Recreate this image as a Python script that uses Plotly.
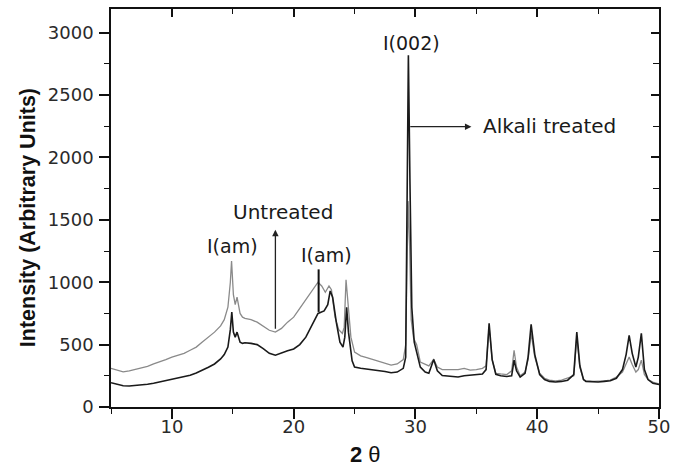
import plotly.graph_objects as go

# ---- data ----
alk_x = [5, 5.5, 6, 6.5, 7, 7.5, 8, 8.5, 9, 9.5, 10, 10.5, 11, 11.5, 12, 12.5, 13, 13.5, 14, 14.3,
         14.6, 14.8, 14.92, 15.05, 15.2, 15.35, 15.6, 15.8, 16, 16.5, 17, 17.5, 18, 18.5, 19, 19.5,
         20, 20.5, 21, 21.5, 22, 22.5, 22.8, 23.0, 23.2, 23.5, 23.8, 24.05, 24.2, 24.35, 24.5, 24.8,
         25, 25.5, 26, 26.5, 27, 27.5, 28, 28.5, 29, 29.2, 29.3, 29.42, 29.55, 29.7, 29.9, 30.1,
         30.4, 30.8, 31.1, 31.5, 31.8, 32.2, 33, 33.5, 34, 34.5, 35, 35.5, 35.8, 36.05, 36.3, 36.6,
         37, 37.5, 37.9, 38.1, 38.3, 38.6, 39, 39.25, 39.5, 39.8, 40.2, 40.6, 41, 41.5, 42, 42.5,
         43, 43.25, 43.5, 43.8, 44, 44.5, 45, 45.5, 46, 46.5, 47, 47.3, 47.55, 47.8, 48.1, 48.3,
         48.55, 48.8, 49.1, 49.5, 50]
alk_y = [195, 180, 170, 168, 172, 175, 182, 190, 200, 212, 222, 232, 245, 255, 272, 292, 318, 345, 385, 420,
         480, 620, 760, 600, 560, 600, 520, 510, 515, 510, 500, 468, 430, 415, 435, 450,
         465, 500, 560, 650, 750, 770, 820, 930, 880, 680, 520, 480, 560, 800, 600, 370,
         320, 310, 305, 300, 292, 285, 275, 280, 310, 400, 1500, 2820, 1800, 800, 520, 440,
         320, 280, 270, 380, 290, 252, 245, 240, 250, 255, 260, 265, 300, 670, 380, 262,
         250, 245, 250, 375, 290, 240, 270, 400, 662, 420, 260, 220, 205, 200, 205, 215,
         260, 600, 330, 220, 205, 200, 200, 205, 210, 230, 300, 420, 575, 430, 320, 400,
         590, 300, 220, 190, 180]

unt_x = [5, 5.5, 6, 6.5, 7, 7.5, 8, 8.5, 9, 9.5, 10, 10.5, 11, 11.5, 12, 12.5, 13, 13.5, 14, 14.3,
         14.6, 14.8, 14.9, 15.05, 15.2, 15.35, 15.6, 15.8, 16, 16.5, 17, 17.5, 18, 18.5, 19, 19.5,
         20, 20.5, 21, 21.5, 22, 22.3, 22.6, 22.9, 23.1, 23.4, 23.7, 24.0, 24.15, 24.3, 24.45, 24.7,
         25, 25.5, 26, 26.5, 27, 27.5, 28, 28.5, 29, 29.2, 29.3, 29.4, 29.52, 29.65, 29.85, 30.1,
         30.4, 30.8, 31.1, 31.5, 31.8, 32.2, 33, 33.5, 34, 34.5, 35, 35.5, 35.8, 36.05, 36.3, 36.6,
         37, 37.5, 37.9, 38.1, 38.3, 38.6, 39, 39.25, 39.5, 39.8, 40.2, 40.6, 41, 41.5, 42, 42.5,
         43, 43.25, 43.5, 43.8, 44, 44.5, 45, 45.5, 46, 46.5, 47, 47.3, 47.55, 47.8, 48.1, 48.3,
         48.55, 48.8, 49.1, 49.5, 50]
unt_y = [310, 295, 282, 290, 300, 310, 325, 345, 360, 380, 400, 415, 430, 455, 480, 520, 560, 600, 650, 700,
         800, 1000, 1170, 900, 820, 880, 750, 720, 710, 700, 680, 650, 615, 600, 630, 680,
         720, 790, 860, 940, 1000, 970, 920, 970, 940, 720, 620, 590, 640, 1020, 850, 560,
         440, 410, 395, 380, 360, 345, 335, 345, 380, 500, 1100, 1650, 1300, 700, 550, 500,
         360, 340, 330, 380, 320, 300, 300, 300, 310, 295, 300, 310, 330, 640, 380, 270,
         265, 260, 290, 455, 320, 250, 280, 380, 590, 400, 270, 230, 215, 210, 215, 230,
         250, 560, 320, 220, 210, 205, 205, 210, 215, 240, 280, 340, 400, 340, 280, 300,
         375, 260, 220, 200, 185]

x_range = [5, 50]
y_range = [0, 3190]
x_ticks = [10, 20, 30, 40, 50]
y_ticks = [0, 500, 1000, 1500, 2000, 2500, 3000]

FONT = "DejaVu Sans, Liberation Sans, sans-serif"
BOLD_FONT = "Liberation Sans, Arial, sans-serif"

fig = go.Figure()
fig.add_trace(go.Scatter(x=unt_x, y=unt_y, mode="lines", name="Untreated",
                         line=dict(color="#8a8a8a", width=1.3)))
fig.add_trace(go.Scatter(x=alk_x, y=alk_y, mode="lines", name="Alkali treated",
                         line=dict(color="#1a1a1a", width=1.6)))
# invisible trace for top/right mirror axes
fig.add_trace(go.Scatter(x=[None], y=[None], xaxis="x2", yaxis="y2", showlegend=False))

axis_common = dict(showgrid=False, zeroline=False, showline=True, linecolor="#111", linewidth=1.6)

fig.update_layout(
    width=683, height=467,
    margin=dict(l=111, r=24, t=9, b=60),
    paper_bgcolor="white", plot_bgcolor="white",
    showlegend=False,
    font=dict(family=FONT, color="#222", size=18),
    xaxis=dict(range=x_range, tickvals=x_ticks, ticks="outside", ticklen=10, tickwidth=1.6,
               tickcolor="#111", ticklabelstandoff=-7,
               minor=dict(dtick=5, tick0=0, ticks="outside", ticklen=5, tickwidth=1.4, tickcolor="#111"),
               tickfont=dict(size=18, color="#2a2a2a", family=FONT), **axis_common),
    yaxis=dict(range=y_range, tickvals=y_ticks, ticks="outside", ticklen=10, tickwidth=1.6,
               tickcolor="#111", ticklabelstandoff=2,
               minor=dict(dtick=250, tick0=0, ticks="outside", ticklen=5, tickwidth=1.4, tickcolor="#111"),
               tickfont=dict(size=18, color="#2a2a2a", family=FONT), **axis_common),
    xaxis2=dict(range=x_range, overlaying="x", side="top", tickvals=x_ticks, ticks="inside",
                ticklen=8, tickwidth=1.6, tickcolor="#111", showticklabels=False,
                minor=dict(dtick=5, tick0=0, ticks="inside", ticklen=5, tickwidth=1.4, tickcolor="#111"),
                **axis_common),
    yaxis2=dict(range=y_range, overlaying="y", side="right", tickvals=y_ticks, ticks="inside",
                ticklen=8, tickwidth=1.6, tickcolor="#111", showticklabels=False,
                minor=dict(dtick=250, tick0=0, ticks="inside", ticklen=6, tickwidth=1.4, tickcolor="#111"),
                **axis_common),
)

# axis titles
fig.add_annotation(text="<b>Intensity (Arbitrary Units)</b>", xref="paper", yref="paper",
                   x=-0.151, y=0.475, textangle=-90, showarrow=False,
                   xanchor="center", yanchor="middle", font=dict(size=21.5, color="#111", family=BOLD_FONT))
fig.add_annotation(text="<b>2</b> θ", xref="paper", yref="paper",
                   x=(366 - 111) / 548.5, y=-(454 - 406.7) / 397.4, showarrow=False,
                   xanchor="center", yanchor="middle", font=dict(size=22, color="#111", family=BOLD_FONT))

# peak labels
lab_font = dict(size=19, color="#1a1a1a", family=FONT)
big_font = dict(size=20, color="#1a1a1a", family=FONT)
fig.add_annotation(text="I(002)", x=29.7, y=2917, showarrow=False, font=lab_font)
fig.add_annotation(text="I(am)", x=15.0, y=1290, showarrow=False, font=lab_font)
fig.add_annotation(text="I(am)", x=22.7, y=1217, showarrow=False, font=lab_font)
fig.add_annotation(text="Untreated", x=19.15, y=1565, showarrow=False, font=big_font)
fig.add_annotation(text="Alkali treated", x=35.4, y=2251, showarrow=False, xanchor="left", font=big_font)

# arrows
fig.add_annotation(x=34.6, y=2247, ax=29.45, ay=2247, xref="x", yref="y", axref="x", ayref="y",
                   text="", showarrow=True, arrowhead=2, arrowsize=1, arrowwidth=1.3, arrowcolor="#222")
fig.add_annotation(x=18.5, y=1420, ax=18.5, ay=616, xref="x", yref="y", axref="x", ayref="y",
                   text="", showarrow=True, arrowhead=2, arrowsize=1, arrowwidth=1.3, arrowcolor="#222")

# marker line at second I(am)
fig.add_shape(type="line", x0=22.05, x1=22.05, y0=762, y1=1103, xref="x", yref="y",
              line=dict(color="#111", width=2))

fig.write_html("out.html", config={"displayModeBar": False},
               post_script="document.body.style.margin='0';document.body.style.overflow='hidden';")
